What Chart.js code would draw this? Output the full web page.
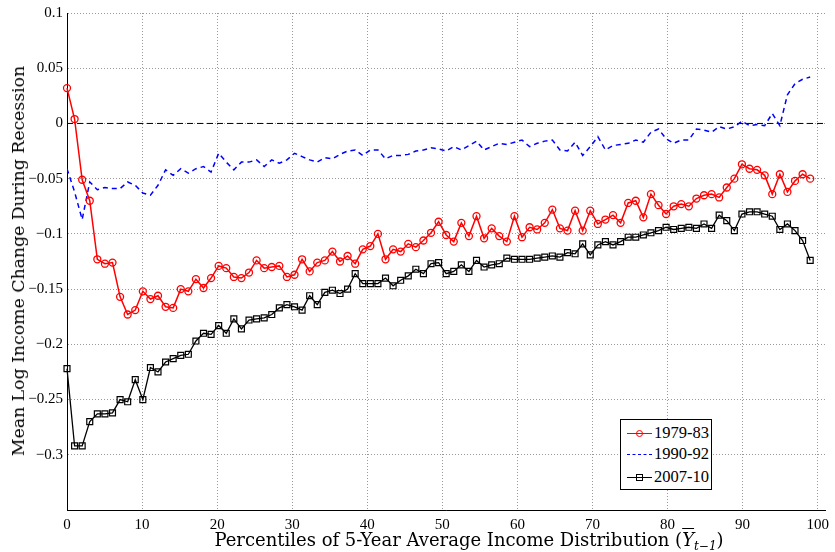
<!DOCTYPE html>
<html>
<head>
<meta charset="utf-8">
<script src="https://cdn.jsdelivr.net/npm/chart.js@4.4.0/dist/chart.umd.min.js"></script>
<style>
  body { margin: 0; background: #fff; }
  #wrap { position: relative; width: 835px; height: 552px; overflow: hidden; }
  .axisTitle { position: absolute; font-family: "DejaVu Serif", serif; font-size: 18px; line-height: 20px; white-space: nowrap; color: #000; }
  #yTitle { left: 18px; top: 261px; font-size: 17.3px; transform: translate(-50%, -50%) rotate(-90deg); }
  #xTitle { left: 469px; top: 530px; transform: translateX(-50%); }
  .ybar { font-style: italic; text-decoration: overline; }
  #xTitle sub { font-size: 12px; font-style: italic; line-height: 0; vertical-align: -4px; }
  #legend { position: absolute; left: 620px; top: 419px; width: 92px; height: 71px; box-sizing: border-box; border: 1px solid #000; background: #fff; }
  .lgLine { position: absolute; left: 6px; width: 25px; height: 0; }
  .lgMark { position: absolute; box-sizing: border-box; }
  .lgText { position: absolute; left: 33px; font-family: "Liberation Serif", serif; font-size: 16.5px; line-height: 20px; }
</style>
</head>
<body>
<div id="wrap">
  <canvas id="incomeChart" width="835" height="552"></canvas>
  <div id="yTitle" class="axisTitle">Mean Log Income Change During Recession</div>
  <div id="xTitle" class="axisTitle">Percentiles of 5-Year Average Income Distribution (<span class="ybar">Y</span><sub>t−1</sub>)</div>
  <div id="legend">
    <div class="lgLine" style="top:13px;border-top:1.5px solid #ff0000"></div>
    <div class="lgMark" style="left:15px;top:10px;width:7px;height:7px;border:1.3px solid #ff0000;border-radius:50%"></div>
    <div class="lgText" style="top:3px">1979-83</div>
    <div class="lgLine" style="top:34px;border-top:1.5px dashed #0000ff"></div>
    <div class="lgText" style="top:24px">1990-92</div>
    <div class="lgLine" style="top:57px;border-top:1.5px solid #000"></div>
    <div class="lgMark" style="left:15px;top:54px;width:7px;height:7px;border:1.3px solid #000"></div>
    <div class="lgText" style="top:47px">2007-10</div>
  </div>
</div>
<script>
// mean log income change by percentile, one value per percentile bin
const recession1979 = [
  0.032, 0.004, -0.051, -0.070, -0.123, -0.127, -0.126, -0.157, -0.173, -0.169,
  -0.152, -0.159, -0.156, -0.166, -0.167, -0.150, -0.152, -0.141, -0.149, -0.140,
  -0.129, -0.131, -0.139, -0.140, -0.135, -0.124, -0.131, -0.130, -0.129, -0.139,
  -0.137, -0.123, -0.134, -0.126, -0.124, -0.116, -0.125, -0.120, -0.127, -0.114,
  -0.111, -0.100, -0.123, -0.114, -0.116, -0.109, -0.112, -0.106, -0.099, -0.089,
  -0.101, -0.107, -0.090, -0.102, -0.084, -0.104, -0.095, -0.102, -0.107, -0.084,
  -0.103, -0.094, -0.096, -0.090, -0.078, -0.095, -0.097, -0.079, -0.097, -0.079,
  -0.091, -0.087, -0.083, -0.090, -0.072, -0.070, -0.085, -0.064, -0.074, -0.082,
  -0.075, -0.073, -0.075, -0.068, -0.065, -0.064, -0.067, -0.058, -0.050, -0.037,
  -0.041, -0.042, -0.047, -0.064, -0.046, -0.062, -0.052, -0.046, -0.050
];
const recession1990 = [
  -0.041, -0.062, -0.087, -0.053, -0.060, -0.058, -0.059, -0.059, -0.053, -0.056,
  -0.063, -0.065, -0.056, -0.042, -0.047, -0.041, -0.045, -0.041, -0.039, -0.044,
  -0.027, -0.035, -0.042, -0.035, -0.035, -0.033, -0.039, -0.033, -0.036, -0.033,
  -0.027, -0.030, -0.033, -0.035, -0.031, -0.032, -0.028, -0.025, -0.024, -0.029,
  -0.024, -0.024, -0.032, -0.029, -0.029, -0.028, -0.025, -0.024, -0.022, -0.023,
  -0.025, -0.021, -0.024, -0.020, -0.016, -0.024, -0.021, -0.018, -0.019, -0.017,
  -0.015, -0.021, -0.018, -0.016, -0.015, -0.024, -0.025, -0.017, -0.029, -0.021,
  -0.012, -0.024, -0.020, -0.019, -0.018, -0.015, -0.017, -0.008, -0.005, -0.014,
  -0.018, -0.015, -0.015, -0.005, -0.006, -0.008, -0.003, -0.005, -0.003, 0.002,
  -0.002, -0.001, -0.002, 0.009, -0.002, 0.026, 0.036, 0.040, 0.042
];
const recession2007 = [
  -0.222, -0.292, -0.292, -0.270, -0.263, -0.263, -0.262, -0.250, -0.252, -0.232,
  -0.250, -0.221, -0.225, -0.216, -0.213, -0.210, -0.209, -0.197, -0.190, -0.191,
  -0.183, -0.190, -0.177, -0.186, -0.178, -0.177, -0.176, -0.173, -0.167, -0.164,
  -0.166, -0.169, -0.156, -0.164, -0.153, -0.151, -0.154, -0.150, -0.136, -0.145,
  -0.145, -0.145, -0.140, -0.147, -0.142, -0.138, -0.132, -0.136, -0.127, -0.126,
  -0.136, -0.134, -0.128, -0.134, -0.124, -0.130, -0.128, -0.127, -0.122, -0.123,
  -0.123, -0.123, -0.122, -0.121, -0.120, -0.121, -0.117, -0.118, -0.109, -0.119,
  -0.110, -0.107, -0.110, -0.107, -0.103, -0.103, -0.101, -0.099, -0.097, -0.094,
  -0.096, -0.095, -0.094, -0.095, -0.091, -0.095, -0.083, -0.088, -0.097, -0.082,
  -0.080, -0.080, -0.082, -0.084, -0.096, -0.091, -0.097, -0.106, -0.124
];

// 99 bins spread evenly over 0..99 on the x axis
const percentiles = recession1979.map((_, i) => i * 99 / 98);

const xTicks = [0, 10, 20, 30, 40, 50, 60, 70, 80, 90, 100];
const yTicks = [-0.35, -0.3, -0.25, -0.2, -0.15, -0.1, -0.05, 0, 0.05, 0.1];

const toPoints = (vals) => vals.map((v, i) => ({ x: percentiles[i], y: v }));

const tickFont = { family: "Liberation Serif", size: 15 };

new Chart(document.getElementById("incomeChart"), {
  type: "line",
  data: {
    datasets: [
      {
        label: "1979-83",
        data: toPoints(recession1979),
        borderColor: "#ff0000",
        borderWidth: 1.5,
        pointStyle: "circle",
        pointRadius: 3.5,
        pointBorderWidth: 1.3,
        pointBorderColor: "#ff0000",
        pointBackgroundColor: "rgba(0,0,0,0)",
        clip: false,
        order: 1,
      },
      {
        label: "1990-92",
        data: toPoints(recession1990),
        borderColor: "#0000ff",
        borderWidth: 1.5,
        borderDash: [5, 4],
        pointRadius: 0,
        order: 2,
      },
      {
        label: "2007-10",
        data: toPoints(recession2007),
        borderColor: "#000000",
        borderWidth: 1.3,
        pointStyle: "rect",
        pointRadius: 4.2,
        pointBorderWidth: 1.2,
        pointBorderColor: "#000000",
        pointBackgroundColor: "rgba(0,0,0,0)",
        clip: false,
        order: 0,
      },
      {
        label: "zero",
        data: [{ x: 0, y: 0 }, { x: 101, y: 0 }],
        borderColor: "#000000",
        borderWidth: 1,
        borderDash: [6, 4],
        pointRadius: 0,
        order: 10,
      },
    ],
  },
  options: {
    responsive: false,
    animation: false,
    devicePixelRatio: 1,
    layout: { padding: { left: 0, top: 12, right: 6, bottom: 0 } },
    plugins: { legend: { display: false }, tooltip: { enabled: false } },
    scales: {
      x: {
        type: "linear",
        min: 0,
        max: 101,
        afterBuildTicks: (s) => { s.ticks = xTicks.map((v) => ({ value: v })); },
        afterFit: (s) => { s.height = 42; },
        grid: { color: "#9a9a9a", drawTicks: false, lineWidth: 1 },
        border: { display: true, color: "#000", width: 1, dash: [1, 2] },
        ticks: { padding: 6, color: "#000", font: tickFont, maxRotation: 0, autoSkip: false },
      },
      y: {
        type: "linear",
        min: -0.35,
        max: 0.1,
        afterBuildTicks: (s) => { s.ticks = yTicks.map((v) => ({ value: v })); },
        afterFit: (s) => { s.width = 67; },
        grid: { color: "#9a9a9a", drawTicks: false, lineWidth: 1 },
        border: { display: true, color: "#000", width: 1, dash: [1, 2] },
        ticks: {
          padding: 4,
          color: "#000",
          font: tickFont,
          autoSkip: false,
          callback: (v) => (v === yTicks[0] ? "" : String(Math.round(v * 100) / 100).replace("-", "\u2212")),
        },
      },
    },
  },
});
</script>
</body>
</html>
